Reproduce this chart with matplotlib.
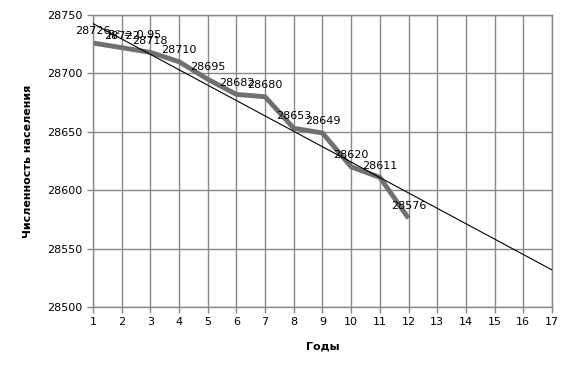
import numpy as np
import matplotlib.pyplot as plt

# Population by year
years = [1, 2, 3, 4, 5, 6, 7, 8, 9, 10, 11, 12]
population = [28726, 28722, 28718, 28710, 28695, 28682, 28680, 28653, 28649, 28620, 28611, 28576]
trend_x = [1, 17]
r2_label = "R² = 0,95"

plt.rcParams['font.family'] = ['DejaVu Sans']

fig = plt.figure(figsize=(5.69, 3.74), dpi=100)
ax = fig.add_axes([0.1634, 0.179, 0.8066, 0.781])

grid_color = '#888888'

# linear trend
k, b = np.polyfit(years, population, 1)
tx = np.array(trend_x)
ax.plot(tx, k * tx + b, color='black', lw=0.8, zorder=3)

ax.plot(years, population, color='#707070', lw=3.5, solid_capstyle='butt', zorder=2)

for x, y in zip(years, population):
    ax.annotate(str(y), (x, y), xytext=(0, 8.5), textcoords='offset points',
                ha='center', va='center', fontsize=8, zorder=4)

ax.text(2.45, 28733, r2_label, ha='center', va='center', fontsize=8, zorder=4)

ax.set_xlim(1, 17)
ax.set_ylim(28500, 28750)
ax.set_xticks(range(1, 18))
ax.set_yticks(range(28500, 28751, 50))
ax.grid(True, color=grid_color, lw=1)
ax.set_axisbelow(True)
for s in ax.spines.values():
    s.set_color(grid_color)
    s.set_linewidth(1)
ax.tick_params(colors=grid_color, labelcolor='black', labelsize=8, length=4, width=1)

ax.set_xlabel('Годы', fontsize=8, fontweight='bold', labelpad=10)
ax.set_ylabel('Численность населения', fontsize=8, fontweight='bold', labelpad=10)

fig.savefig('out.png', dpi=100)
